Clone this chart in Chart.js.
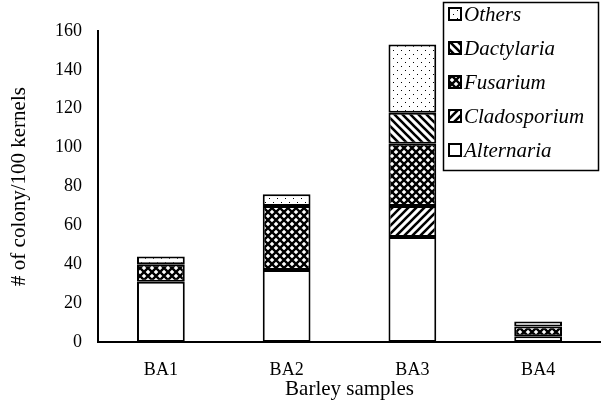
<!DOCTYPE html>
<html>
<head>
<meta charset="utf-8">
<script src="https://cdn.jsdelivr.net/npm/chart.js@4.4.0/dist/chart.umd.min.js"></script>
<style>
  body { margin: 0; background: #fff; }
  #wrap { width: 601px; height: 413px; }
</style>
</head>
<body>
<div id="wrap"><canvas id="bar-chart"></canvas></div>
<script>
var categories = ['BA1', 'BA2', 'BA3', 'BA4'];
var alternaria = [31, 37, 54, 3];
var cladosporium = [null, null, 16, null];
var fusarium = [9, 33, 32, 5];
var dactylaria = [null, null, 16, null];
var others = [4, 6, 35, 2.5];

function makePattern(kind) {
  var c = document.createElement('canvas');
  c.width = 8; c.height = 8;
  var g = c.getContext('2d');
  g.fillStyle = '#fff';
  g.fillRect(0, 0, 8, 8);
  g.strokeStyle = '#000';
  g.fillStyle = '#000';
  if (kind === 'fwd') {
    g.lineWidth = 2.6;
    g.beginPath();
    g.moveTo(-2, 10); g.lineTo(10, -2);
    g.moveTo(-2, 2); g.lineTo(2, -2);
    g.moveTo(6, 10); g.lineTo(10, 6);
    g.stroke();
  } else if (kind === 'back') {
    g.lineWidth = 2.6;
    g.beginPath();
    g.moveTo(-2, -2); g.lineTo(10, 10);
    g.moveTo(6, -2); g.lineTo(10, 2);
    g.moveTo(-2, 6); g.lineTo(2, 10);
    g.stroke();
  } else if (kind === 'cross') {
    g.lineWidth = 2.4;
    g.beginPath();
    g.moveTo(-2, 10); g.lineTo(10, -2);
    g.moveTo(-2, -2); g.lineTo(10, 10);
    g.stroke();
  } else if (kind === 'dots') {
    g.fillRect(1, 2, 1, 1);
    g.fillRect(5, 6, 1, 1);
  }
  return g.createPattern(c, 'repeat');
}

var ctx = document.getElementById('bar-chart').getContext('2d');

// legend drawn by hand: boxed, reversed, italic
var legendBox = {
  id: 'legendBox',
  afterDraw: function (chart) {
    var g = chart.ctx;
    var sets = chart.data.datasets.slice().reverse();
    var x = 443, y = 2, w = 155, h = 168;
    g.save();
    g.fillStyle = '#fff';
    g.fillRect(x, y, w, h);
    g.strokeStyle = '#000';
    g.lineWidth = 1.5;
    g.strokeRect(x + 0.5, y + 0.5, w, h);
    g.font = 'italic 21px "Liberation Serif"';
    g.textBaseline = 'middle';
    sets.forEach(function (ds, i) {
      var cy = 14 + i * 34;
      g.fillStyle = ds.backgroundColor;
      g.fillRect(449, cy - 6, 12, 12);
      g.lineWidth = 2;
      g.strokeStyle = '#000';
      g.strokeRect(449, cy - 6, 12, 12);
      g.fillStyle = '#000';
      g.fillText(ds.label, 464, cy + 1);
    });
    g.restore();
  }
};

Chart.defaults.font.family = '"Liberation Serif"';
Chart.defaults.font.size = 18;
Chart.defaults.color = '#000';

function bar(label, data, fill) {
  return {
    label: label,
    data: data,
    backgroundColor: fill,
    borderColor: '#000',
    borderWidth: 2,
    borderSkipped: false,
    categoryPercentage: 1,
    barPercentage: 0.38
  };
}

var chart = new Chart(ctx, {
  type: 'bar',
  data: {
    labels: categories,
    datasets: [
      bar('Alternaria', alternaria, '#fff'),
      bar('Cladosporium', cladosporium, makePattern('fwd')),
      bar('Fusarium', fusarium, makePattern('cross')),
      bar('Dactylaria', dactylaria, makePattern('back')),
      bar('Others', others, makePattern('dots'))
    ]
  },
  options: {
    responsive: true,
    maintainAspectRatio: false,
    animation: false,
    layout: { padding: { top: 31, right: 0, left: 9, bottom: 13 } },
    plugins: {
      legend: { display: false },
      tooltip: { enabled: false }
    },
    scales: {
      x: {
        stacked: true,
        grid: { display: false, drawTicks: false },
        border: { color: '#000', width: 2 },
        ticks: { padding: 19, font: { lineHeight: 1 } },
        title: { display: true, text: 'Barley samples', font: { size: 21, lineHeight: 1 }, padding: { top: -19, bottom: 0 } }
      },
      y: {
        stacked: true,
        min: 0,
        max: 160,
        grid: { display: false, drawTicks: false },
        border: { color: '#000', width: 2 },
        ticks: { stepSize: 20, padding: 16 },
        title: { display: true, text: '# of colony/100 kernels', font: { size: 21, lineHeight: 1 }, padding: { top: 0, bottom: 9 } }
      }
    }
  },
  plugins: [legendBox]
});
</script>
</body>
</html>
